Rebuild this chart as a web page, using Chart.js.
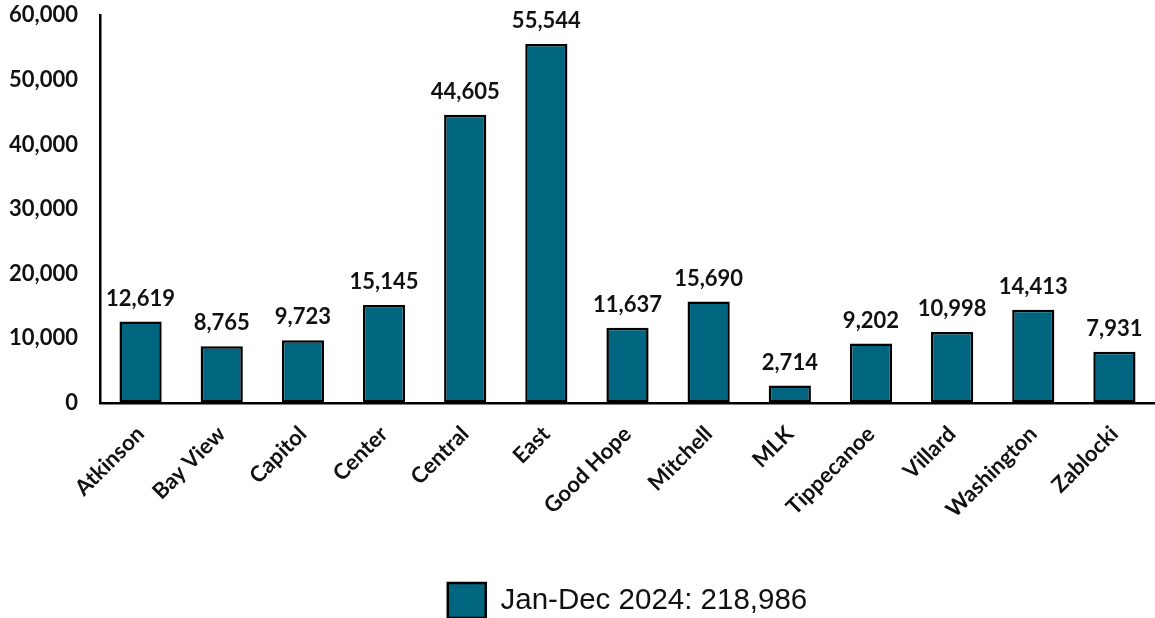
<!DOCTYPE html>
<html>
<head>
<meta charset="utf-8">
<script src="https://cdn.jsdelivr.net/npm/chart.js@4/dist/chart.umd.min.js"></script>
<style>
  html, body { margin: 0; padding: 0; background: #fff; overflow: hidden; }
  #wrap { width: 1155px; height: 618px; }
</style>
</head>
<body>
<div id="wrap"><canvas id="graficoBiblioteca"></canvas></div>
<script>
const bibliotecas = ['Atkinson', 'Bay View', 'Capitol', 'Center', 'Central', 'East', 'Good Hope',
    'Mitchell', 'MLK', 'Tippecanoe', 'Villard', 'Washington', 'Zablocki'];

const visitas = [12619, 8765, 9723, 15145, 44605, 55544, 11637, 15690, 2714, 9202, 10998, 14413, 7931];

const rotuloSerie = 'Jan-Dec 2024: 218,986';

const fonteNegrito = 'Lato, "Open Sans", sans-serif';

// Escreve o valor em cima de cada barra
const valoresNasBarras = {
    id: 'valoresNasBarras',
    afterDatasetsDraw(chart) {
        const c = chart.ctx;
        const meta = chart.getDatasetMeta(0);
        c.save();
        c.font = `bold 22px ${fonteNegrito}`;
        c.fillStyle = '#111';
        c.textAlign = 'center';
        c.textBaseline = 'bottom';
        meta.data.forEach((barra, i) => {
            c.fillText(chart.data.datasets[0].data[i].toLocaleString('en-US'), barra.x, barra.y - 12);
        });
        c.restore();
    }
};

const ctx = document.getElementById('graficoBiblioteca');

new Chart(ctx, {
    type: 'bar',
    data: {
        labels: bibliotecas,
        datasets: [{
            label: rotuloSerie,
            data: visitas,
            backgroundColor: '#00667F',
            borderColor: '#000',
            borderWidth: 2.5,
            borderSkipped: false,
            barPercentage: 0.52,
            categoryPercentage: 1
        }]
    },
    options: {
        responsive: true,
        maintainAspectRatio: false,
        animation: false,
        layout: { padding: { top: 1, right: 0, left: 0, bottom: -10 } },
        plugins: {
            tooltip: { enabled: false },
            legend: {
                position: 'bottom',
                fullSize: false,
                labels: {
                    boxWidth: 38,
                    boxHeight: 35,
                    padding: 2,
                    color: '#111',
                    font: { family: '"Liberation Sans", Arial, sans-serif', size: 29.5 }
                }
            }
        },
        scales: {
            x: {
                // marcas invisíveis só para afastar os rótulos do eixo
                grid: { display: true, drawOnChartArea: false, color: 'rgba(0,0,0,0)', tickLength: 16 },
                border: { color: '#000', width: 2.5 },
                afterFit: (escala) => { escala.height = 178; },
                ticks: {
                    minRotation: 45,
                    maxRotation: 45,
                    padding: 2,
                    color: '#111',
                    font: { family: fonteNegrito, size: 22, weight: 'bold' }
                }
            },
            y: {
                min: 0,
                max: 60000,
                grid: { display: true, drawOnChartArea: false, color: 'rgba(0,0,0,0)', tickLength: 20 },
                border: { color: '#000', width: 2.5 },
                afterFit: (escala) => { escala.width = 100; },
                ticks: {
                    stepSize: 10000,
                    padding: 2,
                    color: '#111',
                    font: { family: fonteNegrito, size: 22, weight: 'bold' },
                    callback: (v) => v.toLocaleString('en-US')
                }
            }
        }
    },
    plugins: [valoresNasBarras]
});
</script>
</body>
</html>
